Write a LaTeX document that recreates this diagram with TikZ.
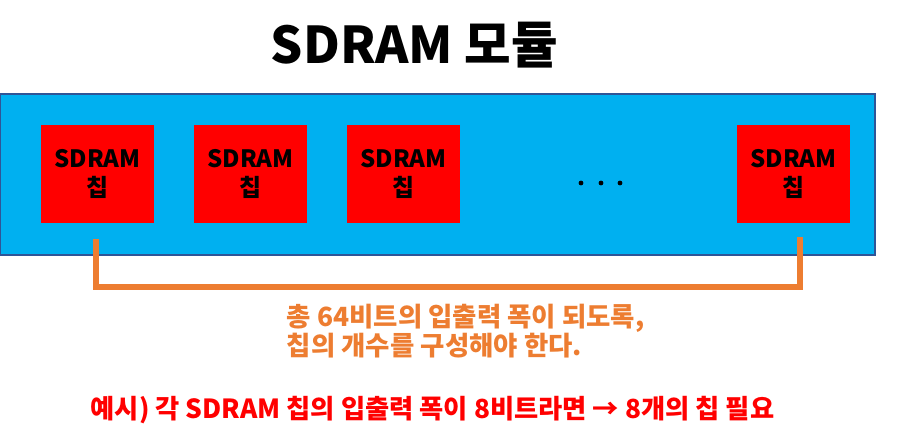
\documentclass[tikz,border=0pt]{standalone}
\usepackage{fontspec}
\setmainfont{Noto Sans CJK KR}
\definecolor{moduleblue}{HTML}{00B0F0}
\definecolor{frameblue}{HTML}{2F5597}
\definecolor{chipred}{HTML}{FF0000}
\definecolor{lineorange}{HTML}{ED7D31}
\tikzset{
  moduleframe/.style={draw=frameblue, fill=moduleblue, line width=1pt},
  chipbox/.style={fill=chipred, minimum width=2.825cm, minimum height=2.45cm,
    inner sep=0pt, align=center, font=\fontsize{17}{20}\selectfont\bfseries},
  widthline/.style={draw=lineorange, line width=4.3pt}
}
\begin{document}
\begin{tikzpicture}[x=0.025cm, y=-0.025cm]
  \useasboundingbox (0,0) rectangle (921,440);

  % 1. Title and the module board
  \node (title) at (414.5,45) {\fontsize{36}{40}\selectfont\bfseries SDRAM 모듈};
  \draw[moduleframe] (0,94) rectangle (875,255);

  % 2. The chips on the board
  \foreach \x/\name in {97.5/chipa, 250.5/chipb, 403.5/chipc, 793.5/chipd} {
    \node[chipbox] (\name) at (\x,174) {SDRAM\\칩};
  }

  % 3. Dots for the chips left out
  \foreach \x in {581,601,620} {
    \fill (\x,183) circle (2.4);
  }

  % 4. Bracket under the chips
  \coordinate (lefttop) at ([xshift=-1.5*0.025cm, yshift=-16*0.025cm]chipa.south);
  \coordinate (righttop) at ([xshift=6.5*0.025cm, yshift=-14*0.025cm]chipd.south);
  \draw[widthline] (lefttop) -- ++(0,48) -| (righttop);

  % 5. Notes
  \node[anchor=west, align=left, text=lineorange,
    font=\fontsize{18.8}{19.5}\selectfont\bfseries] (note) at (282,331)
    {총 64비트의 입출력 폭이 되도록,\\칩의 개수를 구성해야 한다.};
  \node[text=chipred, font=\fontsize{18.7}{20}\selectfont\bfseries] (example) at (432.5,410)
    {예시) 각 SDRAM 칩의 입출력 폭이 8비트라면 → 8개의 칩 필요};
\end{tikzpicture}
\end{document}
